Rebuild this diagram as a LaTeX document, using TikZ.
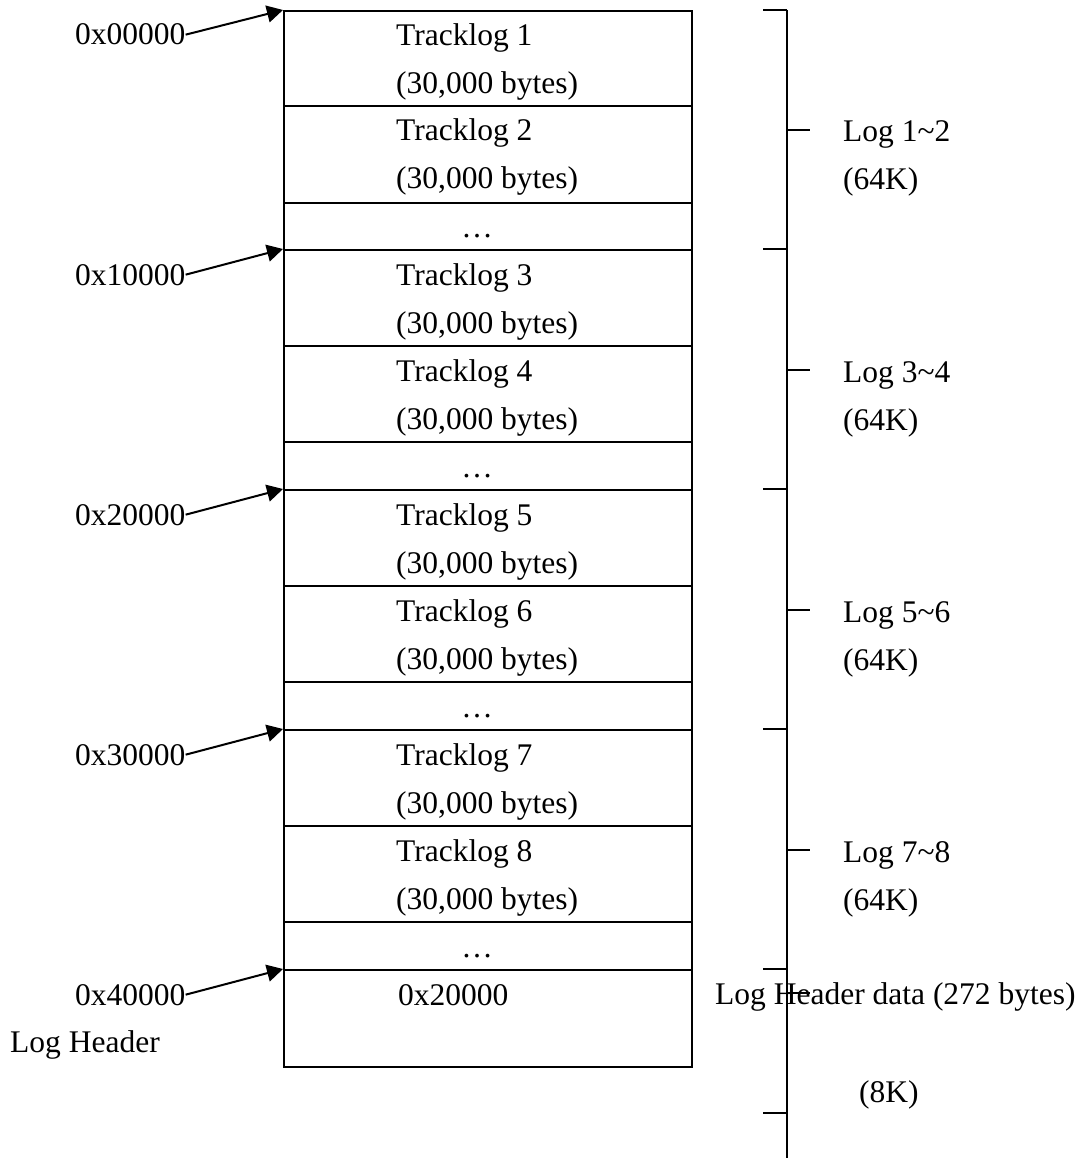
\documentclass[tikz,border=0pt]{standalone}
\usepackage{fontspec}
\setmainfont{Liberation Serif}
\usetikzlibrary{arrows.meta}
\begin{document}
\begin{tikzpicture}[x=1pt,y=-1pt,
  row/.style={draw, line width=2pt, minimum width=408pt, inner sep=0pt, anchor=north west},
  txt/.style={inner sep=0pt, anchor=base west, font=\fontsize{31.5}{36}\selectfont},
  dots/.style={inner sep=0pt, anchor=base, font=\fontsize{31.5}{36}\selectfont},
  addrarrow/.style={line width=2pt, -{Triangle[length=16pt,width=17pt]}},
  brk/.style={line width=2pt}]
\useasboundingbox (0,0) rectangle (1091,1158);
% rows
\node[row, minimum height=95pt] (r1) at (283,10) {};
\node[row, minimum height=97pt] (r2) at (283,105) {};
\node[row, minimum height=47pt] (d1) at (283,202) {};
\node[row, minimum height=96pt] (r3) at (283,249) {};
\node[row, minimum height=96pt] (r4) at (283,345) {};
\node[row, minimum height=48pt] (d2) at (283,441) {};
\node[row, minimum height=96pt] (r5) at (283,489) {};
\node[row, minimum height=96pt] (r6) at (283,585) {};
\node[row, minimum height=48pt] (d3) at (283,681) {};
\node[row, minimum height=96pt] (r7) at (283,729) {};
\node[row, minimum height=96pt] (r8) at (283,825) {};
\node[row, minimum height=48pt] (d4) at (283,921) {};
\node[row, minimum height=97pt] (hd) at (283,969) {};
% row texts
\node[txt] (t1a) at (396,46) {Tracklog 1};
\node[txt] (t1b) at (396,94) {(30,000 bytes)};
\node[txt] (t2a) at (396,141) {Tracklog 2};
\node[txt] (t2b) at (396,189) {(30,000 bytes)};
\node[dots] (x1) at (477,238) {\ldots};
\node[txt] (t3a) at (396,285) {Tracklog 3};
\node[txt] (t3b) at (396,333) {(30,000 bytes)};
\node[txt] (t4a) at (396,381) {Tracklog 4};
\node[txt] (t4b) at (396,429) {(30,000 bytes)};
\node[dots] (x2) at (477,477) {\ldots};
\node[txt] (t5a) at (396,525) {Tracklog 5};
\node[txt] (t5b) at (396,573) {(30,000 bytes)};
\node[txt] (t6a) at (396,621) {Tracklog 6};
\node[txt] (t6b) at (396,669) {(30,000 bytes)};
\node[dots] (x3) at (477,717) {\ldots};
\node[txt] (t7a) at (396,765) {Tracklog 7};
\node[txt] (t7b) at (396,813) {(30,000 bytes)};
\node[txt] (t8a) at (396,861) {Tracklog 8};
\node[txt] (t8b) at (396,909) {(30,000 bytes)};
\node[dots] (x4) at (477,957) {\ldots};
\node[txt] (hv) at (398,1005) {0x20000};
% address labels
\node[txt] (a0) at (75,45) {0x00000};
\node[txt] (a1) at (75,285) {0x10000};
\node[txt] (a2) at (75,525) {0x20000};
\node[txt] (a3) at (75,765) {0x30000};
\node[txt] (a4) at (75,1005) {0x40000};
\node[txt] (lh) at (10,1052) {Log Header};
\draw[addrarrow] (a0.east) -- (r1.north west);
\draw[addrarrow] (a1.east) -- (r3.north west);
\draw[addrarrow] (a2.east) -- (r5.north west);
\draw[addrarrow] (a3.east) -- (r7.north west);
\draw[addrarrow] (a4.east) -- (hd.north west);
% bracket
\coordinate (bt) at (787,10);
\coordinate (bb) at (787,1158);
\draw[brk] (bt) -- (bb);
\foreach \y in {10,249,489,729,969,1113} \draw[brk] (763,\y) -- (787,\y);
\foreach \y in {130,370,610,850,993} \draw[brk] (787,\y) -- (810,\y);
% right labels
\node[txt] (g1a) at (843,142) {Log 1\textasciitilde 2};
\node[txt] (g1b) at (843,190) {(64K)};
\node[txt] (g2a) at (843,382) {Log 3\textasciitilde 4};
\node[txt] (g2b) at (843,430) {(64K)};
\node[txt] (g3a) at (843,622) {Log 5\textasciitilde 6};
\node[txt] (g3b) at (843,670) {(64K)};
\node[txt] (g4a) at (843,862) {Log 7\textasciitilde 8};
\node[txt] (g4b) at (843,910) {(64K)};
\node[txt] (lhd) at (715,1004) {Log Header data (272 bytes)};
\node[txt] (k8) at (859,1102) {(8K)};
\end{tikzpicture}
\end{document}
